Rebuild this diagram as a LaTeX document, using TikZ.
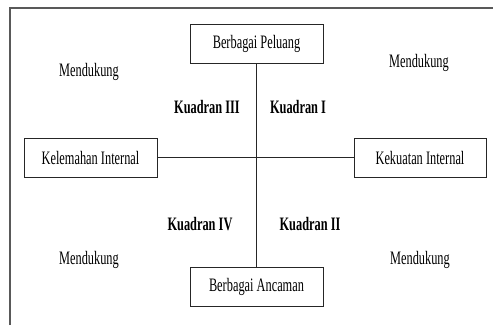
\documentclass[tikz,border=0pt]{standalone}
\usepackage{fontspec}
\setmainfont[FakeStretch=0.65]{Liberation Serif}
\begin{document}
\begin{tikzpicture}[x=1pt,y=-1pt,
  box/.style={draw=black!85,line width=0.9pt,minimum width=133pt,minimum height=39pt,inner sep=0pt,font=\fontsize{19}{22}\selectfont},
  lbl/.style={font=\fontsize{19}{22}\selectfont,inner sep=0pt},
  qlbl/.style={font=\fontsize{19}{22}\selectfont\bfseries,inner sep=0pt},
  conn/.style={draw=black!85,line width=0.9pt}]
\useasboundingbox (0,0) rectangle (493,325);
\draw[black!65,line width=1.6pt] (10,325) -- (10,8) -- (493,8);
\node[box] (top) at (256.5,43.5) {Berbagai Peluang};
\node[box] (bot) at (256.5,286.5) {Berbagai Ancaman};
\node[box] (left) at (90.5,157.5) {Kelemahan Internal};
\node[box,minimum width=132pt] (right) at (420,157.5) {Kekuatan Internal};
\draw[conn] (top.south) -- (bot.north);
\draw[conn] (left.east) -- (right.west);
\node[lbl] (m1) at (89,72) {Mendukung};
\node[lbl] (m2) at (419,63) {Mendukung};
\node[lbl] (m3) at (89,260) {Mendukung};
\node[lbl] (m4) at (420,260) {Mendukung};
\node[qlbl] (q3) at (207,107) {Kuadran III};
\node[qlbl] (q1) at (298,107) {Kuadran I};
\node[qlbl] (q4) at (200,224) {Kuadran IV};
\node[qlbl] (q2) at (310,224) {Kuadran II};
\end{tikzpicture}
\end{document}
